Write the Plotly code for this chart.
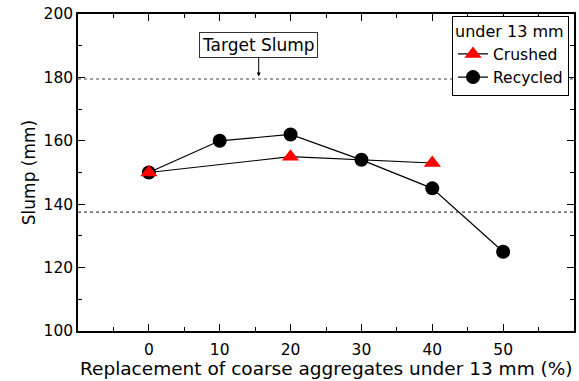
import plotly.graph_objects as go

replacement = [0, 10, 20, 30, 40, 50]
crushed_x = [0, 20, 40]
crushed_slump = [150, 155, 153]
recycled_x = [0, 10, 20, 30, 40, 50]
recycled_slump = [150, 160, 162, 154, 145, 125]
target_upper = 179.5
target_lower = 137.5

FONT = "DejaVu Sans"

fig = go.Figure()
fig.add_trace(go.Scatter(x=recycled_x, y=recycled_slump, mode="lines+markers", name="Recycled",
                         line=dict(color="black", width=1.2),
                         marker=dict(symbol="circle", size=14, color="black")))
fig.add_trace(go.Scatter(x=crushed_x, y=crushed_slump, mode="lines+markers", name="Crushed",
                         line=dict(color="black", width=1.2),
                         marker=dict(symbol="triangle-up", size=15, color="red")))

for yv in (target_upper, target_lower):
    fig.add_shape(type="line", xref="paper", x0=0, x1=1, y0=yv, y1=yv,
                  line=dict(color="#444444", width=1.1, dash="3px,3px"))

fig.add_annotation(x=15.5, y=target_upper + 0.8, text="Target Slump", showarrow=True,
                   ax=0, ay=-31, arrowhead=2, arrowsize=0.8, arrowwidth=1, arrowcolor="black",
                   bordercolor="#333333", borderwidth=1, borderpad=2, bgcolor="white",
                   font=dict(family=FONT, size=17, color="black"))

# x-axis title placed just under the tick labels
fig.add_annotation(xref="paper", yref="paper", x=0.5, y=-0.118, yanchor="middle",
                   text="Replacement of coarse aggregates under 13 mm (%)", showarrow=False,
                   font=dict(family=FONT, size=18.5, color="black"))

axis_common = dict(showline=True, linecolor="black", linewidth=1.5, mirror="ticks",
                   ticks="inside", ticklen=7, tickwidth=1.2, tickcolor="black",
                   showgrid=False, zeroline=False,
                   tickfont=dict(family=FONT, size=15.5, color="black"))

fig.update_xaxes(range=[-10, 60], tickvals=replacement, ticktext=[str(v) for v in replacement],
                 ticklabelstandoff=4,
                 minor=dict(ticks="inside", ticklen=4, dtick=5, tick0=-5, tickcolor="black", showgrid=False),
                 **axis_common)
fig.update_yaxes(range=[100, 200], dtick=20,
                 minor=dict(ticks="inside", ticklen=4, dtick=10, tickcolor="black", showgrid=False),
                 title=dict(text="Slump (mm)", font=dict(family=FONT, size=17, color="black"), standoff=4),
                 **axis_common)

fig.update_layout(
    width=579, height=381,
    margin=dict(l=78, r=3, t=14, b=50),
    paper_bgcolor="white", plot_bgcolor="white",
    legend=dict(title=dict(text="under 13 mm", font=dict(family=FONT, size=16, color="black")),
                traceorder="reversed",
                x=0.99, y=0.995, xanchor="right", yanchor="top",
                bordercolor="black", borderwidth=1, bgcolor="white",
                font=dict(family=FONT, size=15.5, color="black"),
                itemwidth=30, tracegroupgap=0),
    showlegend=True,
)

fig.write_html("out.html")
